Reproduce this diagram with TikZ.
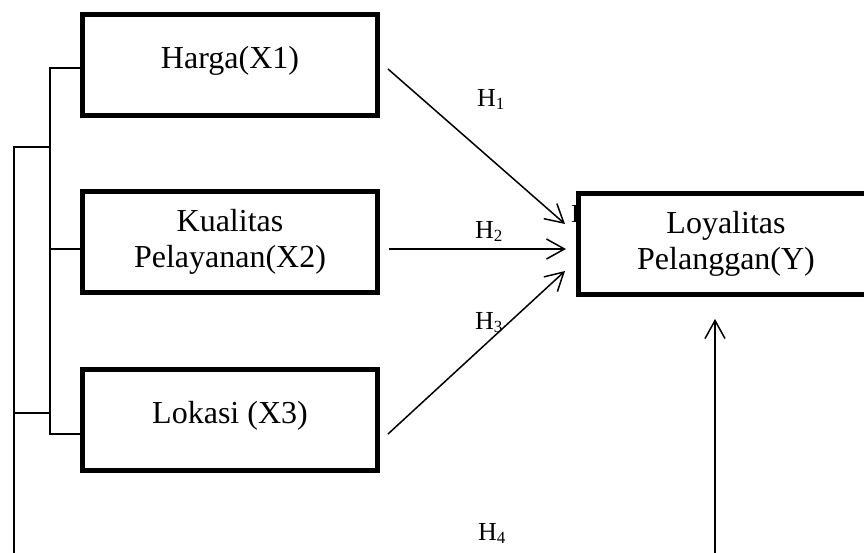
\documentclass[tikz,border=0pt]{standalone}
\usepackage{fontspec}
\setmainfont{Liberation Serif}
\usetikzlibrary{arrows.meta}
% hypothesis label with a lowered index
\newcommand\hsub[1]{H\raisebox{-3pt}{\fontsize{17}{17}\selectfont #1}}
\begin{document}
\begin{tikzpicture}[x=1pt,y=-1pt,
  box/.style={draw, line width=5pt, minimum width=295pt, minimum height=101pt,
    inner sep=0pt, outer sep=0pt, align=center, font=\fontsize{32}{36}\selectfont},
  oneline/.style={text height=22pt, text depth=15pt},
  link/.style={line width=1.3pt},
  hyparrow/.style={line width=1.5pt, -{Straight Barb[length=18pt,width=20pt,line width=1.5pt]}},
  hlabel/.style={anchor=base west, inner sep=0pt, font=\fontsize{26}{30}\selectfont}]

\useasboundingbox (0,0) rectangle (864,552);
\clip (0,0) rectangle (864,552);

% label partly hidden behind the dependent-variable box
\node[hlabel] (hy) at (571,222) {H};

% variable boxes
\node[box, oneline] (X1) at (230,65) {Harga(X1)};
\node[box] (X2) at (230,242) {Kualitas\\Pelayanan(X2)};
\node[box, oneline] (X3) at (230,420) {Lokasi (X3)};
\node[box, fill=white] (Y) at (726,243.5) {Loyalitas\\Pelanggan(Y)};

% bracket joining the independent variables
\coordinate (j1) at (50,68);
\coordinate (j2) at (50,249);
\coordinate (j3) at (50,434);
\draw[link] (X1.west |- j1) -- (j1) -- (j3) -- (X3.west |- j3);
\draw[link] (j2) -- (X2.west |- j2);

% outer bracket running down to the simultaneous path
\coordinate (k1) at (14,147);
\coordinate (k2) at (14,413);
\coordinate (k3) at (14,570);
\draw[link] (j1 |- k1) -- (k1) -- (k3);
\draw[link] (k2) -- (j1 |- k2);

% partial hypothesis arrows
\coordinate (a1) at (388,69);  \coordinate (b1) at (565,224);
\coordinate (a2) at (389,249); \coordinate (b2) at (566,249);
\coordinate (a3) at (388,434); \coordinate (b3) at (565,271);
\coordinate (a4) at (715,570); \coordinate (b4) at (715,319);
\draw[hyparrow] (a1) -- (b1);
\draw[hyparrow] (a2) -- (b2);
\draw[hyparrow] (a3) -- (b3);
\draw[hyparrow] (a4) -- (b4);

% hypothesis labels
\node[hlabel] (h1) at (477,106) {\hsub{1}};
\node[hlabel] (h2) at (475,238) {\hsub{2}};
\node[hlabel] (h3) at (475,329) {\hsub{3}};
\node[hlabel] (h4) at (478,540) {\hsub{4}};
\end{tikzpicture}
\end{document}
